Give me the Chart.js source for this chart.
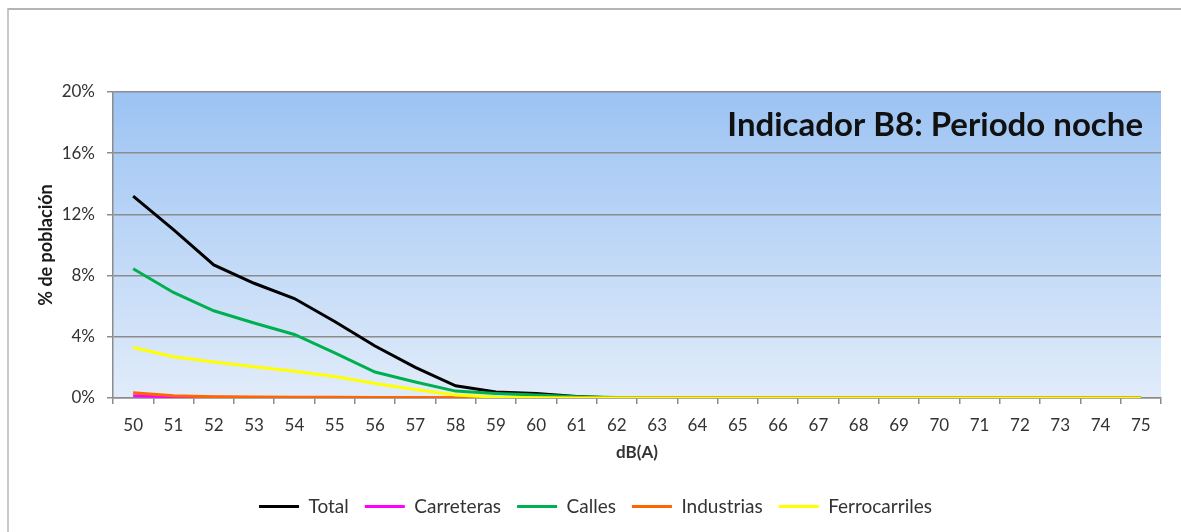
<!DOCTYPE html>
<html>
<head>
<meta charset="utf-8">
<script src="https://cdn.jsdelivr.net/npm/chart.js@4"></script>
<style>
  html, body { margin: 0; padding: 0; background: #fff; }
  #wrap { position: relative; width: 1181px; height: 532px; }
  #frame { position: absolute; left: 7px; top: 8px; right: 0; bottom: 0;
           border-top: 2px solid #b4b4b4; border-left: 2px solid #c8c8c8; pointer-events: none; }
</style>
</head>
<body>
<div id="wrap">
  <canvas id="nocheChart" width="1181" height="532"></canvas>
  <div id="frame"></div>
</div>
<script>
const labels = ['50','51','52','53','54','55','56','57','58','59','60','61','62',
                '63','64','65','66','67','68','69','70','71','72','73','74','75'];

// % of population per dB(A) band
const total         = [13.2, 11.0, 8.7, 7.5, 6.5, 5.0, 3.4, 2.0, 0.8, 0.4, 0.3, 0.1, 0, 0, 0, 0, 0, 0, 0, 0, 0, 0, 0, 0, 0, 0];
const carreteras    = [0.15, 0.08, 0.05, 0.04, 0.04, 0.03, 0.03, 0.02, 0, 0, 0, 0, 0, 0, 0, 0, 0, 0, 0, 0, 0, 0, 0, 0, 0, 0];
const calles        = [8.45, 6.9, 5.7, 4.9, 4.15, 2.95, 1.7, 1.05, 0.45, 0.3, 0.2, 0.08, 0.03, 0, 0, 0, 0, 0, 0, 0, 0, 0, 0, 0, 0, 0];
const industrias    = [0.35, 0.15, 0.08, 0.06, 0.05, 0.05, 0.04, 0.03, 0.02, 0.01, 0, 0, 0, 0, 0, 0, 0, 0, 0, 0, 0, 0, 0, 0, 0, 0];
const ferrocarriles = [3.3, 2.7, 2.35, 2.05, 1.75, 1.4, 0.95, 0.55, 0.2, 0.05, 0.02, 0, 0, 0, 0, 0, 0, 0, 0, 0, 0, 0, 0, 0, 0, 0];

const yTicks = [0, 4, 8, 12, 16, 20];

const FONT = 'Lato, "Open Sans", sans-serif';

const plotBackground = {
  id: 'plotBackground',
  beforeDraw(chart) {
    const { ctx, chartArea: a } = chart;
    const g = ctx.createLinearGradient(0, a.top, 0, a.bottom);
    g.addColorStop(0, '#9cc3f3');
    g.addColorStop(1, '#e1ecfa');
    ctx.save();
    ctx.fillStyle = g;
    ctx.fillRect(a.left, a.top, a.right - a.left, a.bottom - a.top);
    ctx.restore();
  }
};

const insideTitle = {
  id: 'insideTitle',
  afterDatasetsDraw(chart) {
    const { ctx, chartArea: a } = chart;
    ctx.save();
    ctx.font = 'bold 33px ' + FONT;
    ctx.fillStyle = '#111';
    ctx.textAlign = 'right';
    ctx.textBaseline = 'middle';
    ctx.fillText('Indicador B8: Periodo noche', a.right - 18, 125);
    ctx.restore();
  }
};

const ctx = document.getElementById('nocheChart').getContext('2d');
new Chart(ctx, {
  type: 'line',
  data: {
    labels: labels,
    // later series sit on top, as in the original
    datasets: [
      { label: 'Total', data: total, borderColor: '#000000', order: 5 },
      { label: 'Carreteras', data: carreteras, borderColor: '#ff00ff', order: 4 },
      { label: 'Calles', data: calles, borderColor: '#00b050', order: 3 },
      { label: 'Industrias', data: industrias, borderColor: '#ff6600', order: 2 },
      { label: 'Ferrocarriles', data: ferrocarriles, borderColor: '#ffff00', order: 1 }
    ].map(d => Object.assign(d, {
      backgroundColor: d.borderColor,
      borderWidth: 3,
      pointRadius: 0,
      pointStyle: 'line',
      tension: 0,
      fill: false
    }))
  },
  options: {
    responsive: false,
    animation: false,
    layout: { padding: { left: 30, right: 20, top: 92, bottom: 6 } },
    scales: {
      x: {
        offset: true,
        afterFit(s) { s.height = 83; },
        grid: { offset: true, drawOnChartArea: false, drawTicks: true, tickLength: 6, color: '#8c8c8c', lineWidth: 1.5 },
        border: { display: true, color: '#8c8c8c', width: 1.5 },
        ticks: { color: '#333', font: { family: FONT, size: 17 }, padding: 11, maxRotation: 0, autoSkip: false },
        title: { display: true, text: 'dB(A)', color: '#333', font: { family: FONT, size: 17, weight: 'bold' },
                 padding: { top: 4, bottom: 18 } }
      },
      y: {
        min: 0,
        max: 20,
        afterFit(s) { s.width = 83; },
        afterBuildTicks(s) { s.ticks = yTicks.map(v => ({ value: v })); },
        grid: { color: '#8c8c8c', lineWidth: 1.5, tickLength: 6 },
        border: { display: true, color: '#8c8c8c', width: 1.5 },
        ticks: { color: '#333', font: { family: FONT, size: 17 }, padding: 12,
                 callback: v => v + '%' },
        title: { display: true, text: '% de población', color: '#1a1a1a', font: { family: FONT, size: 18, weight: 'bold' },
                 padding: { top: 5, bottom: 0 } }
      }
    },
    plugins: {
      legend: {
        display: true,
        position: 'bottom',
        labels: {
          usePointStyle: true,
          pointStyle: 'line',
          pointStyleWidth: 40,
          color: '#333',
          font: { family: FONT, size: 19 },
          padding: 16,
          sort: (a, b) => a.datasetIndex - b.datasetIndex
        }
      },
      tooltip: { enabled: false }
    }
  },
  plugins: [plotBackground, insideTitle]
});
</script>
</body>
</html>
